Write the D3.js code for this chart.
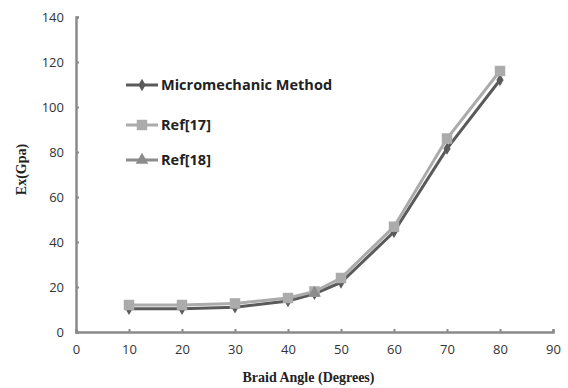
<!DOCTYPE html>
<html lang="en">
    <head>
        <meta charset="UTF-8">
        <script src="https://unpkg.com/d3@7/dist/d3.min.js"></script>
        <title>Braid angle</title>
        <style>
            body { margin: 0; background: #fff; }
        </style>
    </head>
    <body>
        <script type="text/javascript">
            // Data
            var angles = [10, 20, 30, 40, 45, 50, 60, 70, 80];
            var micro = [10.3, 10.3, 11, 13.8, 17, 22, 44.5, 81.5, 112];
            var ref17 = [12, 12, 12.7, 15.1, 18, 24, 46.8, 86, 116];
            var ref18Angles = [45];
            var ref18 = [17.3];
            var xTicks = [0, 10, 20, 30, 40, 50, 60, 70, 80, 90];
            var yTicks = [0, 20, 40, 60, 80, 100, 120, 140];
            var seriesNames = ["Micromechanic Method", "Ref[17]", "Ref[18]"];

            var margin = { top: 17, right: 15, bottom: 56, left: 76 };
            var width = 568 - margin.left - margin.right;
            var height = 388 - margin.top - margin.bottom;

            var svg = d3.select("body")
                .append("svg")
                .attr("width", 568)
                .attr("height", 388)
                .append("g")
                .attr("transform", "translate(" + margin.left + "," + margin.top + ")");

            var xScale = d3.scaleLinear().domain([0, 90]).range([0, width]);
            var yScale = d3.scaleLinear().domain([0, 140]).range([height, 0]);

            // Axes with small inner ticks
            var xAxis = d3.axisBottom(xScale).tickValues(xTicks).tickSize(-3).tickPadding(10);
            var yAxis = d3.axisLeft(yScale).tickValues(yTicks).tickSize(-3).tickPadding(12);

            var gx = svg.append("g")
                .attr("transform", "translate(0," + height + ")")
                .call(xAxis);
            var gy = svg.append("g").call(yAxis);

            [gx, gy].forEach(function(g){
                g.select(".domain").attr("stroke", "#8a8a8a").attr("stroke-width", 2.5);
                g.selectAll(".tick line").attr("stroke", "#8a8a8a").attr("stroke-width", 2);
                g.selectAll("text")
                    .attr("fill", "#333")
                    .style("font-family", "'Open Sans', sans-serif")
                    .style("font-size", "13px");
            });
            gx.selectAll("text").attr("dy", "0.9em");

            // Axis titles
            svg.append("text")
                .attr("text-anchor", "middle")
                .attr("x", width / 2 - 6)
                .attr("y", height + 50)
                .style("font-family", "'Liberation Serif', serif")
                .style("font-weight", "bold")
                .style("font-size", "14px")
                .attr("fill", "#222")
                .text("Braid Angle (Degrees)");

            svg.append("text")
                .attr("text-anchor", "middle")
                .attr("transform", "rotate(-90)")
                .attr("x", -height / 2 + 5)
                .attr("y", -50)
                .style("font-family", "'Liberation Serif', serif")
                .style("font-weight", "bold")
                .style("font-size", "14px")
                .attr("fill", "#222")
                .text("Ex(Gpa)");

            var line = d3.line()
                .x(function(d){ return xScale(d[0]); })
                .y(function(d){ return yScale(d[1]); });

            var microData = angles.map(function(a, i){ return [a, micro[i]]; });
            var ref17Data = angles.map(function(a, i){ return [a, ref17[i]]; });
            var ref18Data = ref18Angles.map(function(a, i){ return [a, ref18[i]]; });

            var colors = ["#5a5a5a", "#ababab", "#8c8c8c"];
            var symbols = [d3.symbolDiamond, d3.symbolSquare, d3.symbolTriangle];
            var sizes = [45, 110, 70];

            function drawSeries(data, idx){
                svg.append("path")
                    .datum(data)
                    .attr("fill", "none")
                    .attr("stroke", colors[idx])
                    .attr("stroke-width", 3)
                    .attr("d", line);
                svg.selectAll(".pt" + idx)
                    .data(data)
                    .enter()
                    .append("path")
                    .attr("class", "pt" + idx)
                    .attr("d", d3.symbol().type(symbols[idx]).size(sizes[idx]))
                    .attr("fill", colors[idx])
                    .attr("transform", function(d){
                        return "translate(" + xScale(d[0]) + "," + yScale(d[1]) + ")";
                    });
            }

            drawSeries(microData, 0);
            drawSeries(ref17Data, 1);
            drawSeries(ref18Data, 2);

            // Legend
            var legendY = [68, 108, 143];
            seriesNames.forEach(function(name, i){
                var g = svg.append("g")
                    .attr("transform", "translate(" + 50 + "," + legendY[i] + ")");
                g.append("line")
                    .attr("x1", 0).attr("x2", 32)
                    .attr("stroke", colors[i])
                    .attr("stroke-width", 3);
                g.append("path")
                    .attr("d", d3.symbol().type(symbols[i]).size(sizes[i]))
                    .attr("transform", "translate(16,0)")
                    .attr("fill", colors[i]);
                g.append("text")
                    .attr("x", 35)
                    .attr("y", 5)
                    .style("font-family", "'Open Sans', sans-serif")
                    .style("font-weight", "bold")
                    .style("font-size", "14.5px")
                    .attr("fill", "#222")
                    .text(name);
            });
        </script>
    </body>
</html>
